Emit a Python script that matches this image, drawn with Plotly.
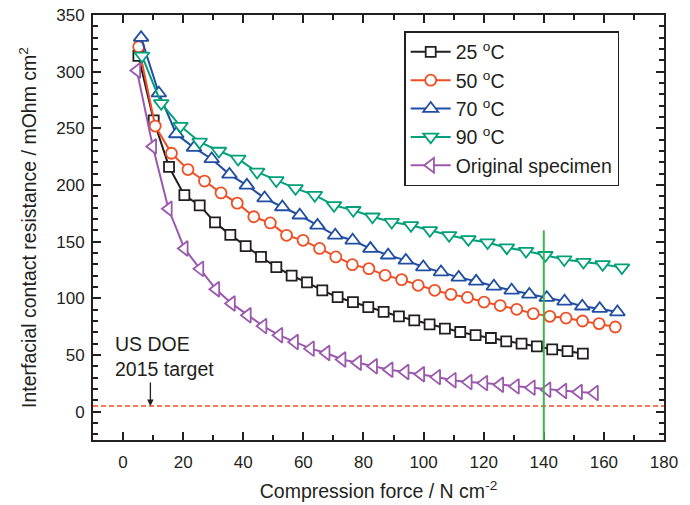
import plotly.graph_objects as go

# Compression force (N cm^-2) and interfacial contact resistance (mOhm cm^2)
force_25 = [5.1, 10.2, 15.3, 20.4, 25.5, 30.6, 35.7, 40.8, 45.9, 51.0,
            56.1, 61.2, 66.3, 71.4, 76.5, 81.6, 86.7, 91.8, 96.9, 102.0,
            107.1, 112.2, 117.3, 122.4, 127.5, 132.6, 137.7, 142.8, 147.9, 153.0]
icr_25 = [314, 257, 216, 191, 182, 167, 156, 146, 136.5, 127.6,
          120, 114, 107, 101, 96.7, 92.3, 88, 84, 80.6, 77,
          73.3, 70.3, 67.5, 65, 62, 60, 57.6, 55, 53.5, 51.2]

force_50 = [5.2, 10.7, 16.1, 21.6, 27.1, 32.6, 38.0, 43.5, 49.0, 54.4,
            59.9, 65.4, 70.8, 76.3, 81.8, 87.2, 92.7, 98.2, 103.7, 109.1,
            114.6, 120.1, 125.5, 131.0, 136.5, 142.0, 147.4, 152.9, 158.4, 163.8]
icr_50 = [322, 252, 228, 213.6, 203.5, 193, 184, 172, 166.5, 155.6,
          151.2, 144, 136.5, 129.7, 126.2, 120.3, 116.5, 111.5, 107.1, 103.5,
          100.8, 96.7, 93.6, 90.3, 86.5, 84.1, 82.6, 80, 77.7, 74.7]

force_70 = [6.0, 11.9, 17.7, 23.6, 29.5, 35.4, 41.2, 47.1, 53.0, 58.8,
            64.7, 70.6, 76.4, 82.3, 88.2, 94.1, 99.9, 105.8, 111.7, 117.5,
            123.4, 129.3, 135.2, 141.0, 146.9, 152.8, 158.6, 164.5]
icr_70 = [330, 281, 245, 233, 223, 209.4, 199.7, 188.5, 180.6, 173.3,
          164.4, 155.6, 151.2, 143.9, 138, 133.5, 127.6, 123.2, 118.5, 115,
          110.6, 107.1, 103.5, 100.6, 97.4, 93, 90.9, 87.9]

force_90 = [6.3, 12.7, 19.1, 25.5, 31.9, 38.3, 44.6, 51.0, 57.4, 63.8,
            70.2, 76.6, 83.0, 89.4, 95.8, 102.1, 108.5, 114.9, 121.3, 127.7,
            134.1, 140.5, 146.8, 153.2, 159.6, 166.0]
icr_90 = [314, 272, 252, 238, 230, 223, 211.5, 204, 197, 191,
          182, 177.7, 172, 167.3, 164.4, 160, 155.6, 152, 149.2, 144.7,
          141.7, 138, 134.2, 132, 130, 127.1]

force_orig = [4.6, 9.9, 15.1, 20.4, 25.6, 30.9, 36.1, 41.4, 46.6, 51.9,
              57.1, 62.4, 67.6, 72.9, 78.1, 83.4, 88.6, 93.9, 99.1, 104.4,
              109.6, 114.9, 120.1, 125.4, 130.6, 135.9, 141.1, 146.4, 151.6, 156.9]
icr_orig = [301, 234, 179, 144, 126, 108, 95.5, 85, 75.5, 67.5,
            61.4, 55.6, 51.7, 46, 43.2, 40, 37, 35, 33, 30.5,
            27.8, 26.1, 25.2, 23.8, 22.3, 21.2, 19.4, 18.2, 17.3, 16.4]

doe_target = 5
marked_force = 140
marked_top = 160

series = [
    ("25 <sup>o</sup>C", force_25, icr_25, "#231f20", "square", 10),
    ("50 <sup>o</sup>C", force_50, icr_50, "#f04e23", "circle", 11),
    ("70 <sup>o</sup>C", force_70, icr_70, "#1f4ea3", "triangle-up", 13),
    ("90 <sup>o</sup>C", force_90, icr_90, "#00a07a", "triangle-down", 13),
    ("Original specimen", force_orig, icr_orig, "#9b59ad", "triangle-left", 13),
]

fig = go.Figure()
for name, xs, ys, color, symbol, size in series:
    fig.add_trace(go.Scatter(
        x=xs, y=ys, name=name, mode="lines+markers",
        line=dict(color=color, width=2),
        marker=dict(symbol=symbol, size=size, color="white",
                    line=dict(color=color, width=1.8)),
    ))

# DOE target level and the marked compression force
fig.add_shape(type="line", xref="x", yref="y", x0=-10, x1=180,
              y0=doe_target, y1=doe_target,
              line=dict(color="#f04e23", width=1.5, dash="5px,3px"))
fig.add_shape(type="line", xref="x", yref="y", x0=marked_force, x1=marked_force,
              y0=-25, y1=marked_top, line=dict(color="#3cb44a", width=2))

fig.add_annotation(x=9.1, y=doe_target, ax=9.1, ay=27, xref="x", yref="y",
                   axref="x", ayref="y", text="", showarrow=True,
                   arrowhead=2, arrowsize=1, arrowwidth=1.3, arrowcolor="#231f20")
fig.add_annotation(x=-3.5, y=26, xref="x", yref="y", text="US DOE<br>2015 target",
                   showarrow=False, xanchor="left", yanchor="bottom", align="left",
                   font=dict(size=19.5, color="#231f20"))

axis_common = dict(
    showline=True, linecolor="#231f20", linewidth=2, mirror="ticks",
    ticks="inside", ticklen=8, tickwidth=2, tickcolor="#231f20",
    showgrid=False, zeroline=False, automargin=False,
    tickfont=dict(size=17, color="#231f20"),
)

fig.update_xaxes(range=[-10, 180], tick0=0, dtick=20, ticklabelstandoff=6,
                 minor=dict(ticks="inside", ticklen=5, tickwidth=2, dtick=10,
                            tick0=0, tickcolor="#231f20", showgrid=False),
                 title=dict(text="Compression force / N cm<sup>-2</sup>",
                            font=dict(size=19.5, color="#231f20"), standoff=13),
                 **axis_common)
fig.update_yaxes(range=[-25, 350], tick0=0, dtick=50, ticklabelstandoff=3,
                 minor=dict(ticks="inside", ticklen=5, tickwidth=2, dtick=10,
                            tick0=0, tickcolor="#231f20", showgrid=False),
                 title=dict(text="Interfacial contact resistance / mOhm cm<sup>2</sup>",
                            font=dict(size=19.5, color="#231f20"), standoff=14),
                 **axis_common)

fig.update_layout(
    width=690, height=505,
    margin=dict(l=93, r=26, t=15, b=65),
    paper_bgcolor="white", plot_bgcolor="white",
    font=dict(family="Liberation Sans, Arial, sans-serif", color="#231f20"),
    legend=dict(x=0.545, y=0.962, xanchor="left", yanchor="top",
                bordercolor="#231f20", borderwidth=1.5, bgcolor="white",
                font=dict(size=19.5, color="#231f20"), tracegroupgap=0,
                itemwidth=40),
    showlegend=True,
)

fig.write_html("out.html")
